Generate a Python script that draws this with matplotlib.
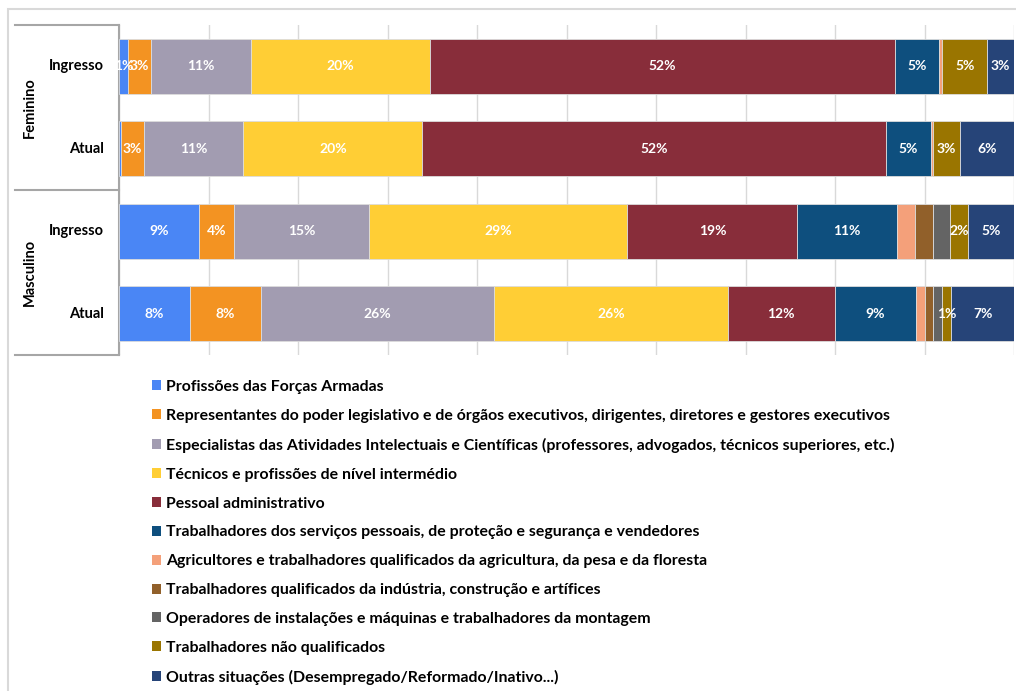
import numpy as np
import matplotlib
matplotlib.use("Agg")
import matplotlib.pyplot as plt
from matplotlib.patches import Rectangle
from matplotlib.lines import Line2D
import matplotlib.transforms as mtransforms

plt.rcParams['font.family'] = ['Lato', 'DejaVu Sans']
plt.rcParams['font.weight'] = 'bold'

# categorias (de cima para baixo)
grupos = ["Feminino", "Masculino"]
situacoes = ["Ingresso", "Atual"]

profissoes = [
    "Profissões das Forças Armadas",
    "Representantes do poder legislativo e de órgãos executivos, dirigentes, diretores e gestores executivos",
    "Especialistas das Atividades Intelectuais e Científicas (professores, advogados, técnicos superiores, etc.)",
    "Técnicos e profissões de nível intermédio",
    "Pessoal administrativo",
    "Trabalhadores dos serviços pessoais, de proteção e segurança e vendedores",
    "Agricultores e trabalhadores qualificados da agricultura, da pesa e da floresta",
    "Trabalhadores qualificados da indústria, construção e artífices",
    "Operadores de instalações e máquinas e trabalhadores da montagem",
    "Trabalhadores não qualificados",
    "Outras situações (Desempregado/Reformado/Inativo...)",
]

cores = ["#4A86F5", "#F39322", "#A29CB1", "#FFCE35", "#882D3A", "#0E4F7E",
         "#F4A07A", "#91602A", "#646464", "#9A7500", "#264478"]

# percentagens por linha: Fem. Ingresso, Fem. Atual, Masc. Ingresso, Masc. Atual
fem_ingresso = [1.0, 2.6, 11.1, 20.0, 52.0, 4.9, 0.4, 0.0, 0.0, 5.0, 3.0]
fem_atual = [0.2, 2.6, 11.1, 20.0, 51.8, 5.0, 0.2, 0.0, 0.0, 3.1, 6.0]
masc_ingresso = [8.9, 4.0, 15.0, 28.9, 19.0, 11.1, 2.0, 2.0, 2.0, 2.0, 5.1]
masc_atual = [7.9, 8.0, 26.0, 26.1, 12.0, 9.0, 1.0, 1.0, 0.9, 1.1, 7.0]

# séries que levam rótulo de dados
com_rotulo = [0, 1, 2, 3, 4, 5, 9, 10]

dados = np.array([fem_ingresso, fem_atual, masc_ingresso, masc_atual])
y = np.arange(len(dados))

fig = plt.figure(figsize=(10.16, 6.91), dpi=100)
W, H = 1016, 691
ax = fig.add_axes([119 / W, 1 - 355 / H, 895 / W, 330 / H])

esquerda = np.zeros(len(dados))
barras = []
for i, nome in enumerate(profissoes):
    b = ax.barh(y, dados[:, i], left=esquerda, height=0.67, color=cores[i],
                edgecolor="#dcdcdc", linewidth=0.6, label=nome, zorder=3)
    barras.append(b)
    if i in com_rotulo:
        for j in range(len(dados)):
            v = dados[j, i]
            if v >= 0.5:
                ax.text(esquerda[j] + v / 2, y[j], f"{round(v):.0f}%", ha="center", va="center",
                        color="white", fontsize=10, fontweight="bold", zorder=4)
    esquerda += dados[:, i]

ax.set_xlim(0, 100)
ax.set_ylim(len(dados) - 0.5, -0.5)
ax.set_xticks(np.arange(0, 101, 10))
ax.set_xticklabels([])
ax.set_yticks([])
ax.tick_params(axis="x", length=0)
ax.grid(axis="x", color="#d9d9d9", linewidth=1, zorder=0)
for s in ["top", "right", "bottom"]:
    ax.spines[s].set_visible(False)
ax.spines["left"].set_color("#a6a6a6")
ax.spines["left"].set_linewidth(1.5)

# eixo de categorias em dois níveis
trans = mtransforms.blended_transform_factory(ax.transAxes, ax.transData)
for j in range(len(dados)):
    ax.text(-0.0168, y[j], situacoes[j % 2], transform=trans, ha="right", va="center",
            fontsize=10.5, fontweight="bold", color="black")
for g, nome in enumerate(grupos):
    ax.text(-0.0995, 2 * g + 0.5, nome, transform=trans, ha="center", va="center",
            rotation=90, fontsize=10.5, fontweight="bold", color="black")
for yy in [-0.5, 1.5, 3.5]:
    ax.add_line(Line2D([-0.116, 0], [yy, yy], transform=trans, color="#a6a6a6",
                       linewidth=1.5, clip_on=False))

# moldura do gráfico
fig.patches.append(Rectangle((8 / W, -0.05), 1.1, 1 - 9 / H + 0.05, transform=fig.transFigure,
                             fill=False, edgecolor="#d9d9d9", linewidth=1.5))

leg = fig.legend(handles=barras, labels=profissoes, loc="upper left",
                 bbox_to_anchor=(144 / W, 1 - 372 / H), frameon=False,
                 fontsize=11.4, handlelength=0.6, handleheight=0.6, handletextpad=0.28,
                 labelspacing=0.94, borderpad=0)
for h in leg.legend_handles:
    h.set_edgecolor("none")

fig.savefig("out.png", dpi=100)
